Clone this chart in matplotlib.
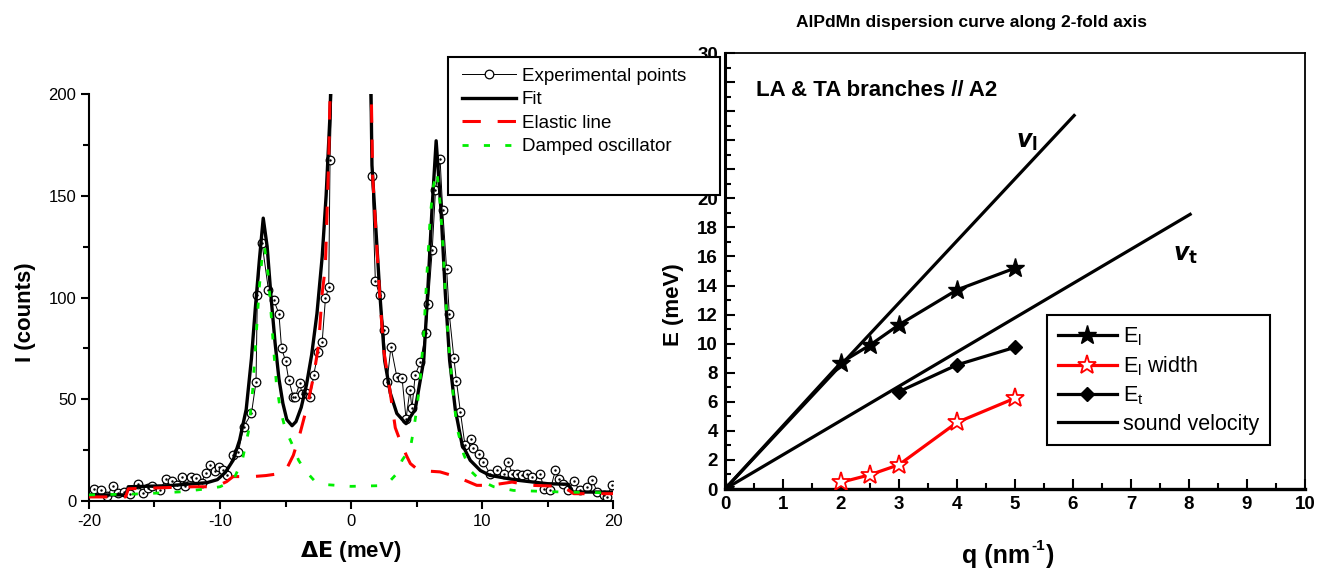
import matplotlib
matplotlib.use("Agg")
import matplotlib.pyplot as plt
from matplotlib.patches import Rectangle
from matplotlib.ticker import MultipleLocator

plt.rcParams['font.family'] = ['Liberation Sans', 'DejaVu Sans']
plt.rcParams['mathtext.default'] = 'regular'
plt.rcParams['axes.unicode_minus'] = False

# ---- left panel: spectrum ----
exp_E = [-19.6, -19.05, -18.6, -18.2, -17.8, -17.35, -16.9, -16.25, -15.9, -15.5,
         -15.2, -14.6, -14.1, -13.7, -13.3, -12.9, -12.7, -12.2, -11.8, -11.4,
         -11.1, -10.8, -10.4, -10.1, -9.8, -9.5, -9.0, -8.6, -8.2, -7.6,
         -7.25, -7.15, -6.8, -6.3, -5.9, -5.5, -5.3, -5.0, -4.75, -4.4,
         -4.25, -3.9, -3.75, -3.4, -3.1, -2.85, -2.5, -2.2, -1.95, -1.7,
         -1.6, -1.3, -1.0, -0.7, -0.4, -0.1, 0.2, 0.5, 0.8, 1.1,
         1.35, 1.6, 1.86, 2.2, 2.5, 2.75, 3.05, 3.5, 3.9, 4.2,
         4.5, 4.65, 4.9, 5.3, 5.7, 5.9, 6.2, 6.45, 6.8, 7.0,
         7.3, 7.5, 7.85, 8.05, 8.35, 8.7, 9.15, 9.35, 9.75, 10.1,
         10.6, 11.15, 11.65, 12.0, 12.3, 12.7, 13.05, 13.4, 13.8, 14.45,
         14.7, 15.2, 15.6, 15.85, 16.2, 16.6, 17.0, 17.45, 18.0, 18.4,
         18.8, 19.3, 19.55, 19.9]
exp_I = [5.7, 5.2, 2.5, 7.2, 4, 4.4, 3.5, 8.2, 3.9, 6.5,
         7.2, 5.2, 11, 10, 8, 11.8, 7.2, 11.8, 11.5, 9,
         14, 17.5, 14.5, 16.7, 15, 12.6, 22.5, 24, 36.4, 43,
         58.6, 101, 127, 103.7, 98.8, 92, 75, 69, 59.4, 51,
         51, 58, 52.6, 53, 51, 61.9, 73.3, 78.3, 99.6, 105,
         167.7, 240, 420, 700, 950, 1050, 1000, 800, 520, 330,
         230, 159.5, 108, 101, 84, 58.6, 75.8, 61, 60.2, 40.5,
         54.5, 45.5, 61.9, 68.4, 82.4, 97, 123.4, 153, 168, 143,
         113.9, 92, 70.5, 59, 43.8, 27.4, 30.7, 25.8, 23.3, 19.2,
         13.5, 15.1, 13.5, 19.2, 13.5, 13.5, 12.6, 13.5, 11.8, 13.5,
         6.1, 5.2, 15.1, 11, 8.5, 5.2, 9.8, 5.2, 6.9, 10.5,
         4.4, 2.8, 2, 7.7]

fit_E = [-20, -17.2, -17.0, -14, -12, -11, -10.2, -9.6, -9.0, -8.5, -8.0, -7.6,
         -7.3, -7.0, -6.7, -6.4, -6.1, -5.8, -5.5, -5.2, -4.9, -4.5, -4.2, -3.8,
         -3.4, -3.0, -2.6, -2.2, -1.9, -1.6, -1.4, -1.0, -0.5, 0, 0.5, 1.0, 1.4,
         1.53, 1.6, 2.2, 2.57, 3.0, 3.5, 4.2, 4.9, 5.55, 5.85, 6.18, 6.5, 6.87,
         7.2, 7.53, 7.96, 8.47, 9.1, 9.87, 10.6, 12.7, 15.0, 16.6, 16.9, 20]
fit_I = [3, 3, 7, 7.5, 8.5, 9, 10.5, 14, 20, 30, 45, 70,
         95, 118, 139, 125, 100, 78, 60, 48, 40, 37, 39, 46,
         57, 72, 92, 120, 150, 190, 240, 450, 800, 950, 800, 450, 240,
         200, 165, 102, 69, 53, 43, 38, 45, 69, 102, 143, 177, 143,
         102, 69, 45, 28, 20, 15, 12.6, 10.2, 8.5, 8.2, 4.4, 4.4]

el_E = [-20, -17.2, -17.0, -12, -10.5, -10, -9.5, -9.0, -7.5, -6.5, -5.4, -4.9,
        -4.4, -3.9, -3.37, -2.86, -2.47, -2.2, -1.96, -1.7, -1.5, -1.0, -0.5, 0,
        0.5, 1.0, 1.5, 1.65, 2.2, 2.5, 3.0, 3.38, 3.64, 4.22, 4.53, 5.17, 6.8,
        8.1, 9.6, 10.6, 12.3, 13.7, 16.2, 17.0, 20]
el_I = [2, 2, 6, 7, 7, 8, 9.5, 12, 12, 12.5, 13.5, 16,
        22.5, 33, 46, 61, 77, 102, 115, 168, 230, 450, 800, 940,
        800, 450, 220, 160, 100, 74, 53, 36, 31.5, 22.5, 18.4, 15, 14.3,
        11.8, 7.7, 7.7, 9.3, 7.7, 7.2, 3.6, 3.6]

do_E = [-20, -16, -13, -11, -10, -9, -8.3, -7.8, -7.5, -7.25, -7.0, -6.75, -6.6,
        -6.3, -6.1, -5.9, -5.7, -5.4, -5.0, -4.5, -4.0, -3.5, -2.8, -1.8, 0,
        2.0, 3.0, 3.5, 3.9, 4.53, 4.78, 5.04, 5.3, 5.55, 5.8, 6.06, 6.3, 6.56,
        6.82, 7.02, 7.2, 7.45, 7.79, 8.09, 8.6, 9.1, 9.9, 10.9, 12.4, 16.2, 20]
do_I = [3, 3.5, 4.5, 6, 7, 10, 20, 35, 55, 80, 105, 122, 125,
        110, 92, 74, 58, 45, 35, 28, 20, 15, 10, 8, 7.2,
        7.5, 10, 13.5, 20, 26, 35, 46, 61, 82, 112, 141, 155, 162,
        145, 125, 102, 77, 53, 36, 23, 15, 10, 7, 5.2, 4.4, 4]

# ---- right panel: dispersion ----
q_l = [0, 2, 2.5, 3, 4, 5]
E_l = [0, 8.7, 9.9, 11.3, 13.7, 15.2]
q_w = [2, 2.5, 3, 4, 5]
E_w = [0.46, 0.98, 1.67, 4.58, 6.25]
q_t = [3, 4, 5]
E_t = [6.7, 8.54, 9.75]
vl_q = [0, 6.02]
vl_E = [0, 25.7]
vt_q = [0, 8.02]
vt_E = [0, 18.9]

W, H = 1325, 574
fig = plt.figure(figsize=(W / 100, H / 100), dpi=100)

# left axes
ax1 = fig.add_axes([89 / W, 1 - 501 / H, 524 / W, 407 / H])
ax1.plot(exp_E, exp_I, '-', color='black', lw=0.7, marker='o', ms=6.2,
         mfc='white', mec='black', mew=0.9, zorder=2, label='Experimental points')
ax1.plot(exp_E, exp_I, ' ', marker='.', ms=1.5, color='black', zorder=2.1)
ax1.plot(fit_E, fit_I, '-', color='black', lw=2.4, zorder=3, label='Fit')
ax1.plot(el_E, el_I, color='#ff0000', lw=2.2, dashes=(6, 5.5), zorder=4,
         label='Elastic line')
ax1.plot(do_E, do_I, color='#00ee00', lw=2.0, dashes=(2.2, 5.5), zorder=5,
         label='Damped oscillator')
ax1.set_xlim(-20, 20)
ax1.set_ylim(0, 200)
ax1.spines['top'].set_visible(False)
ax1.spines['right'].set_visible(False)
for s in ('left', 'bottom'):
    ax1.spines[s].set_linewidth(1.5)
ax1.xaxis.set_major_locator(MultipleLocator(10))
ax1.xaxis.set_minor_locator(MultipleLocator(5))
ax1.yaxis.set_major_locator(MultipleLocator(50))
ax1.yaxis.set_minor_locator(MultipleLocator(25))
ax1.tick_params(which='both', direction='out', width=1.5, labelsize=12)
ax1.tick_params(which='major', length=5.5)
ax1.tick_params(which='minor', length=4.5)
fig.text(26 / W, 1 - 312 / H, 'I (counts)', rotation=90, ha='center', va='center',
         fontsize=16, fontweight='bold')
fig.text(351 / W, 1 - 552 / H, r'$\mathbf{\Delta E}$ (meV)', ha='center', va='center',
         fontsize=16, fontweight='bold')

# right axes
ax2 = fig.add_axes([725 / W, 1 - 489 / H, 580 / W, 436 / H])
ax2.plot(vl_q, vl_E, '-', color='black', lw=2.3, zorder=2)
ax2.plot(vt_q, vt_E, '-', color='black', lw=2.3, zorder=2, label='sound velocity')
ax2.plot(q_l, E_l, '-', color='black', lw=2.3, marker='*', ms=14, mfc='black',
         mec='black', zorder=3, label=r'E$_\mathregular{l}$')
ax2.plot(q_w, E_w, '-', color='#ff0000', lw=2.3, marker='*', ms=14, mfc='white',
         mec='#ff0000', mew=1.3, zorder=3, label=r'E$_\mathregular{l}$ width')
ax2.plot(q_t, E_t, '-', color='black', lw=2.3, marker='D', ms=7, mfc='black',
         mec='black', zorder=3, label=r'E$_\mathregular{t}$')
ax2.set_xlim(0, 10)
ax2.set_ylim(0, 30)
ax2.xaxis.set_major_locator(MultipleLocator(1))
ax2.xaxis.set_minor_locator(MultipleLocator(0.5))
ax2.yaxis.set_major_locator(MultipleLocator(2))
ax2.yaxis.set_minor_locator(MultipleLocator(1))
ax2.tick_params(which='both', direction='in', width=1.5, labelsize=13.5, pad=5)
ax2.tick_params(which='major', length=7)
ax2.tick_params(which='minor', length=4)
for lab in ax2.get_xticklabels() + ax2.get_yticklabels():
    lab.set_fontweight('bold')
ax2.spines['left'].set_linewidth(2.2)
ax2.spines['bottom'].set_linewidth(2.4)
ax2.spines['top'].set_linewidth(1.3)
ax2.spines['right'].set_linewidth(1.3)

ax2.text(0.053, 0.913, 'LA & TA branches // A2', transform=ax2.transAxes,
         fontsize=16, fontweight='bold', va='center', ha='left')
ax2.text(5.02, 23.9, r'$\boldsymbol{v}_{\mathbf{l}}$', fontsize=17, ha='left', va='center')
ax2.text(7.72, 16.1, r'$\boldsymbol{v}_{\mathbf{t}}$', fontsize=17, ha='left', va='center')

h, l = ax2.get_legend_handles_labels()
order = [1, 2, 3, 0]
leg2 = ax2.legend([h[i] for i in order], [l[i] for i in order], loc='upper left',
                  bbox_to_anchor=(0.555, 0.40), borderaxespad=0, fontsize=15.5,
                  frameon=True, fancybox=False, edgecolor='black', framealpha=1,
                  numpoints=1, handlelength=2.75, handletextpad=0.3,
                  labelspacing=0.3, borderpad=0.5)
leg2.get_frame().set_linewidth(1.5)

fig.text(972 / W, 1 - 22 / H, 'AlPdMn dispersion curve along 2-fold axis',
         ha='center', va='center', fontsize=12.5, fontweight='bold')
fig.text(673 / W, 1 - 305 / H, 'E (meV)', rotation=90, ha='center', va='center',
         fontsize=16, fontweight='bold')

# x label of the right panel with a small superscript
t1 = fig.text(962 / W, 1 - 556 / H, 'q (nm', ha='left', va='center',
              fontsize=18, fontweight='bold')
fig.canvas.draw()
bb = t1.get_window_extent()
x_sup = bb.x1 + 1
t2 = fig.text(x_sup / W, 1 - 546 / H, '-1', ha='left', va='center',
              fontsize=11, fontweight='bold')
fig.canvas.draw()
bb2 = t2.get_window_extent()
fig.text((bb2.x1 + 1) / W, 1 - 556 / H, ')', ha='left', va='center',
         fontsize=18, fontweight='bold')

# left legend box, drawn over the right panel's tick labels
box = Rectangle((448 / W, 1 - 195 / H), 272 / W, 138 / H, transform=fig.transFigure,
                facecolor='white', edgecolor='black', lw=1.5, zorder=4)
fig.patches.append(box)
h1, l1 = ax1.get_legend_handles_labels()
leg1 = fig.legend(h1, l1, loc='upper left', bbox_to_anchor=(460 / W, 1 - 66 / H),
                  borderaxespad=0, borderpad=0.1, frameon=False, fontsize=13.5,
                  numpoints=1, handlelength=2.9, handletextpad=0.3,
                  labelspacing=0.34)
leg1.set_zorder(5)

fig.savefig('out.png', dpi=100)
